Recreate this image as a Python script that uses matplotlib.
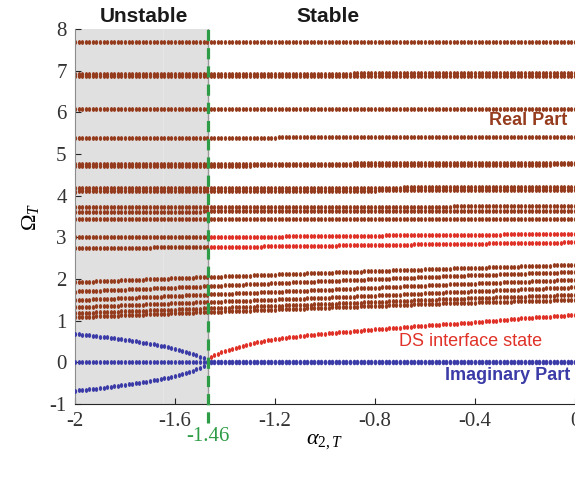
import numpy as np
import matplotlib
matplotlib.use("Agg")
import matplotlib.pyplot as plt
from matplotlib.path import Path

plt.rcParams['mathtext.fontset'] = 'custom'
plt.rcParams['mathtext.rm'] = 'Liberation Serif'
plt.rcParams['mathtext.it'] = 'Liberation Serif:italic'

# ---- data ----
alpha = np.linspace(-2, 0, 141)
alpha_c = -1.47                      # stability boundary (labelled -1.46)
knots = [-2.0, -1.5, -1.0, -0.5, 0.0]

# real-part branches that stay brown everywhere
real_brown = [
    [7.68, 7.69, 7.69, 7.70, 7.70],
    [6.87, 6.87, 6.87, 6.88, 6.88],
    [6.93, 6.93, 6.93, 6.94, 6.94],
    [6.08, 6.08, 6.08, 6.09, 6.09],
    [5.39, 5.39, 5.40, 5.40, 5.41],
    [4.71, 4.72, 4.73, 4.74, 4.75],
    [4.77, 4.77, 4.77, 4.78, 4.78],
    [4.10, 4.11, 4.12, 4.13, 4.14],
    [4.19, 4.19, 4.19, 4.20, 4.20],
    [3.72, 3.73, 3.73, 3.74, 3.75],
    [3.62, 3.62, 3.63, 3.63, 3.64],
    [3.44, 3.44, 3.44, 3.43, 3.43],
    [1.92, 2.04, 2.15, 2.25, 2.34],
    [1.70, 1.82, 1.95, 2.07, 2.17],
    [1.49, 1.62, 1.74, 1.87, 1.98],
    [1.32, 1.44, 1.55, 1.68, 1.80],
    [1.18, 1.29, 1.40, 1.52, 1.62],
    [1.08, 1.20, 1.31, 1.42, 1.50],
]
# branches brown when unstable, red when stable
real_switch = [
    [3.00, 3.00, 3.03, 3.06, 3.08],
    [2.75, 2.76, 2.80, 2.84, 2.88],
]
# DS interface state (stable side)
ds_alpha = [-1.46, -1.40, -1.30, -1.20, -1.10, -1.00, -0.80, -0.60, -0.40, -0.20, 0.00]
ds_vals  = [0.13, 0.28, 0.45, 0.56, 0.63, 0.69, 0.79, 0.88, 0.96, 1.06, 1.14]
# imaginary-part conjugate pair (unstable side)
im_alpha = [-2.00, -1.90, -1.80, -1.70, -1.60, -1.55, -1.50, -1.48]
im_vals  = [0.68, 0.62, 0.54, 0.45, 0.33, 0.24, 0.14, 0.08]

xticks = [-2, -1.6, -1.2, -0.8, -0.4, 0]
xticklabels = ['-2', '-1.6', '-1.2', '-0.8', '-0.4', '0']
yticks = list(range(-1, 9))
yticklabels = [str(v) for v in yticks]

# ---- styling ----
BROWN = '#963c1e'
RED = '#e03228'
BLUE = '#3c3ca8'
GREEN = '#2e9c46'
ms = 3.5

# vertically elongated dot marker
_t = np.linspace(0, 2 * np.pi, 25)
DOT = Path(np.column_stack([0.68 * np.cos(_t), np.sin(_t)]), closed=True)
mk = dict(marker=DOT, ls='none', ms=ms, mew=0)

fig = plt.figure(figsize=(5.75, 4.78), dpi=100)
ax = fig.add_axes([75/575, 74/478, 500/575, 375/478])
ax.set_xlim(-2, 0)
ax.set_ylim(-1, 8)

ax.axvspan(-2, alpha_c, color='#e0e0e0', zorder=0)
ax.axvline(-1.65, color='#e6e6e6', lw=0.8, zorder=0.5)
ax.axvline(alpha_c, color='#9a9a9a', lw=1.0, zorder=0.6)

uns = alpha < alpha_c
stb = ~uns

for v in real_brown:
    y = np.interp(alpha, knots, v)
    ax.plot(alpha, y, color=BROWN, zorder=2, **mk)
for v in real_switch:
    y = np.interp(alpha, knots, v)
    ax.plot(alpha[uns], y[uns], color=BROWN, zorder=2, **mk)
    ax.plot(alpha[stb], y[stb], color=RED, zorder=2, **mk)

a_ds = alpha[(alpha >= ds_alpha[0])]
ax.plot(a_ds, np.interp(a_ds, ds_alpha, ds_vals), color=RED, zorder=3, **mk)

a_im = alpha[(alpha <= im_alpha[-1])]
yim = np.interp(a_im, im_alpha, im_vals)
ax.plot(a_im, yim, color=BLUE, zorder=3, **mk)
ax.plot(a_im, -yim, color=BLUE, zorder=3, **mk)
ax.plot(alpha[uns], np.zeros(uns.sum()), color=BLUE, zorder=3, **mk)
ax.plot(alpha[stb], np.zeros(stb.sum()), color=BLUE, zorder=3,
        marker=DOT, ls='none', ms=4.0, mew=0)

ax.plot([alpha_c, alpha_c], [-1.45, 8], ls=(0, (3.5, 2.2)), color=GREEN, lw=2.3,
        zorder=4, clip_on=False)

ax.set_xticks(xticks)
ax.set_xticklabels(xticklabels)
ax.set_yticks(yticks)
ax.set_yticklabels(yticklabels)
ax.tick_params(direction='in', length=4.5, width=0.8, color='#262626',
               labelsize=15, labelcolor='#333333', pad=6)
for lab in ax.get_xticklabels() + ax.get_yticklabels():
    lab.set_family('Liberation Serif')
ax.spines['top'].set_visible(False)
ax.spines['right'].set_visible(False)
ax.spines['left'].set_color('#8c8c8c')
ax.spines['bottom'].set_color('#262626')

ax.text(alpha_c, -1.55, '-1.46', color=GREEN, ha='center', va='top',
        fontsize=15, family='Liberation Serif')

ax.set_xlabel(r'$\alpha_{2,T}$', fontsize=16, labelpad=0)
ax.set_ylabel(r'$\Omega_T$', fontsize=16, labelpad=6)

ax.text(-1.725, 8.08, 'Unstable', ha='center', va='bottom', fontsize=15,
        fontweight='bold', family='Liberation Sans', color='#1a1a1a')
ax.text(-0.99, 8.08, 'Stable', ha='center', va='bottom', fontsize=15,
        fontweight='bold', family='Liberation Sans', color='#1a1a1a')
ax.text(-0.03, 5.8, 'Real Part', ha='right', va='center', fontsize=13,
        fontweight='bold', family='Liberation Sans', color=BROWN)
ax.text(-0.13, 0.5, 'DS interface state', ha='right', va='center', fontsize=13,
        family='Liberation Sans', color=RED)
ax.text(-0.02, -0.31, 'Imaginary Part', ha='right', va='center', fontsize=13,
        fontweight='bold', family='Liberation Sans', color=BLUE)

fig.savefig('out.png', dpi=100)
